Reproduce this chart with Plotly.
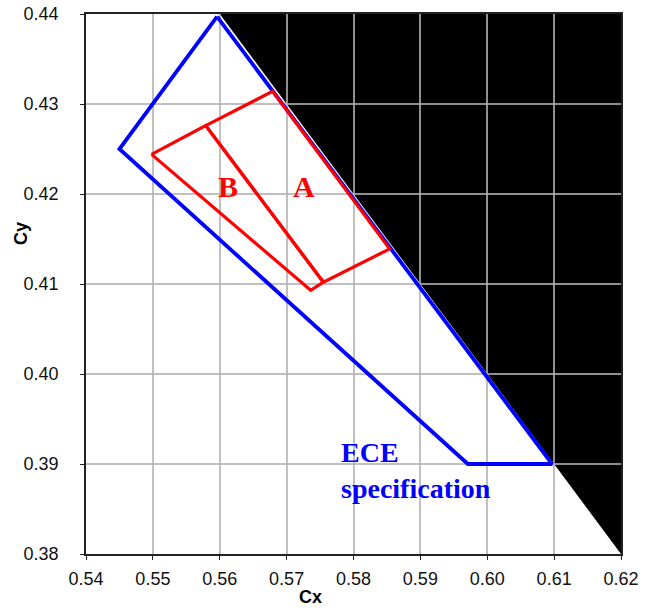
import plotly.graph_objects as go

# Region outside chromaticity limit (cx + cy > 1)
region_x = [0.56, 0.62, 0.62]
region_y = [0.44, 0.44, 0.38]

# ECE specification boundary
ece_x = [0.5596, 0.5450, 0.5971, 0.6097, 0.5596]
ece_y = [0.4397, 0.4250, 0.3900, 0.3900, 0.4397]

# Bin A
a_x = [0.5579, 0.5679, 0.5854, 0.5755, 0.5579]
a_y = [0.4276, 0.4314, 0.4139, 0.4102, 0.4276]

# Bin B
b_x = [0.5498, 0.5579, 0.5755, 0.5736, 0.5498]
b_y = [0.4244, 0.4276, 0.4102, 0.4093, 0.4244]

labels = ["B", "A"]
label_x = [0.5612, 0.5726]
label_y = [0.4208, 0.4208]

x_ticks = [0.54, 0.55, 0.56, 0.57, 0.58, 0.59, 0.60, 0.61, 0.62]
y_ticks = [0.38, 0.39, 0.40, 0.41, 0.42, 0.43, 0.44]

W, H = 653, 608
ml, mr, mt, mb = 86, 32, 14, 54
pw, ph = W - ml - mr, H - mt - mb

fig = go.Figure()

path = "M " + " L ".join(f"{x},{y}" for x, y in zip(region_x, region_y)) + " Z"
fig.add_shape(type="path", path=path, xref="x", yref="y",
              fillcolor="black", line=dict(width=0), layer="below")

fig.add_trace(go.Scatter(x=ece_x, y=ece_y, mode="lines",
                         line=dict(color="#0000ff", width=3.8), showlegend=False))
fig.add_trace(go.Scatter(x=a_x, y=a_y, mode="lines",
                         line=dict(color="#ff0000", width=3.2), showlegend=False))
fig.add_trace(go.Scatter(x=b_x, y=b_y, mode="lines",
                         line=dict(color="#ff0000", width=3.2), showlegend=False))

for t, x, y in zip(labels, label_x, label_y):
    fig.add_annotation(x=x, y=y, text=f"<b>{t}</b>", showarrow=False,
                       xanchor="center", yanchor="middle",
                       font=dict(family="Liberation Serif", size=30, color="#ff0000"))

fig.add_annotation(x=0.5779, y=0.3893, text="<b>ECE<br>specification</b>",
                   showarrow=False, xanchor="left", yanchor="middle", align="left",
                   font=dict(family="Liberation Serif", size=28, color="#0000ff"))


def px_to_paper(px, py):
    return (px - ml) / pw, (H - mb - py) / ph


cx_x, cx_y = px_to_paper(310, 597)
cy_x, cy_y = px_to_paper(21, 234)
fig.add_annotation(x=cx_x, y=cx_y, xref="paper", yref="paper", text="<b>Cx</b>",
                   showarrow=False, xanchor="center", yanchor="middle",
                   font=dict(family="Liberation Sans", size=18, color="black"))
fig.add_annotation(x=cy_x, y=cy_y, xref="paper", yref="paper", text="<b>Cy</b>",
                   showarrow=False, textangle=-90, xanchor="center", yanchor="middle",
                   font=dict(family="Liberation Sans", size=18, color="black"))

grid_col = "rgba(177,177,177,0.81)"
fig.update_layout(
    width=W, height=H,
    margin=dict(l=ml, r=mr, t=mt, b=mb, autoexpand=False),
    plot_bgcolor="white", paper_bgcolor="white",
    font=dict(family="Liberation Sans", size=18, color="black"),
)
common = dict(tickformat=".2f", tickfont=dict(size=18, color="#111"), automargin=False,
              showgrid=True, gridcolor=grid_col, gridwidth=1.5,
              showline=True, linecolor="#222", linewidth=1.5, mirror=True,
              ticks="outside", ticklen=4, tickcolor="#222", zeroline=False,
              ticklabeloverflow="allow")
fig.update_xaxes(range=[0.54, 0.62], tickvals=x_ticks, ticklabelstandoff=4, **common)
fig.update_yaxes(range=[0.38, 0.44], tickvals=y_ticks, ticklabelstandoff=18, **common)

fig.write_html("out.html", config={"displayModeBar": False},
               post_script="document.body.style.margin='0px';")
